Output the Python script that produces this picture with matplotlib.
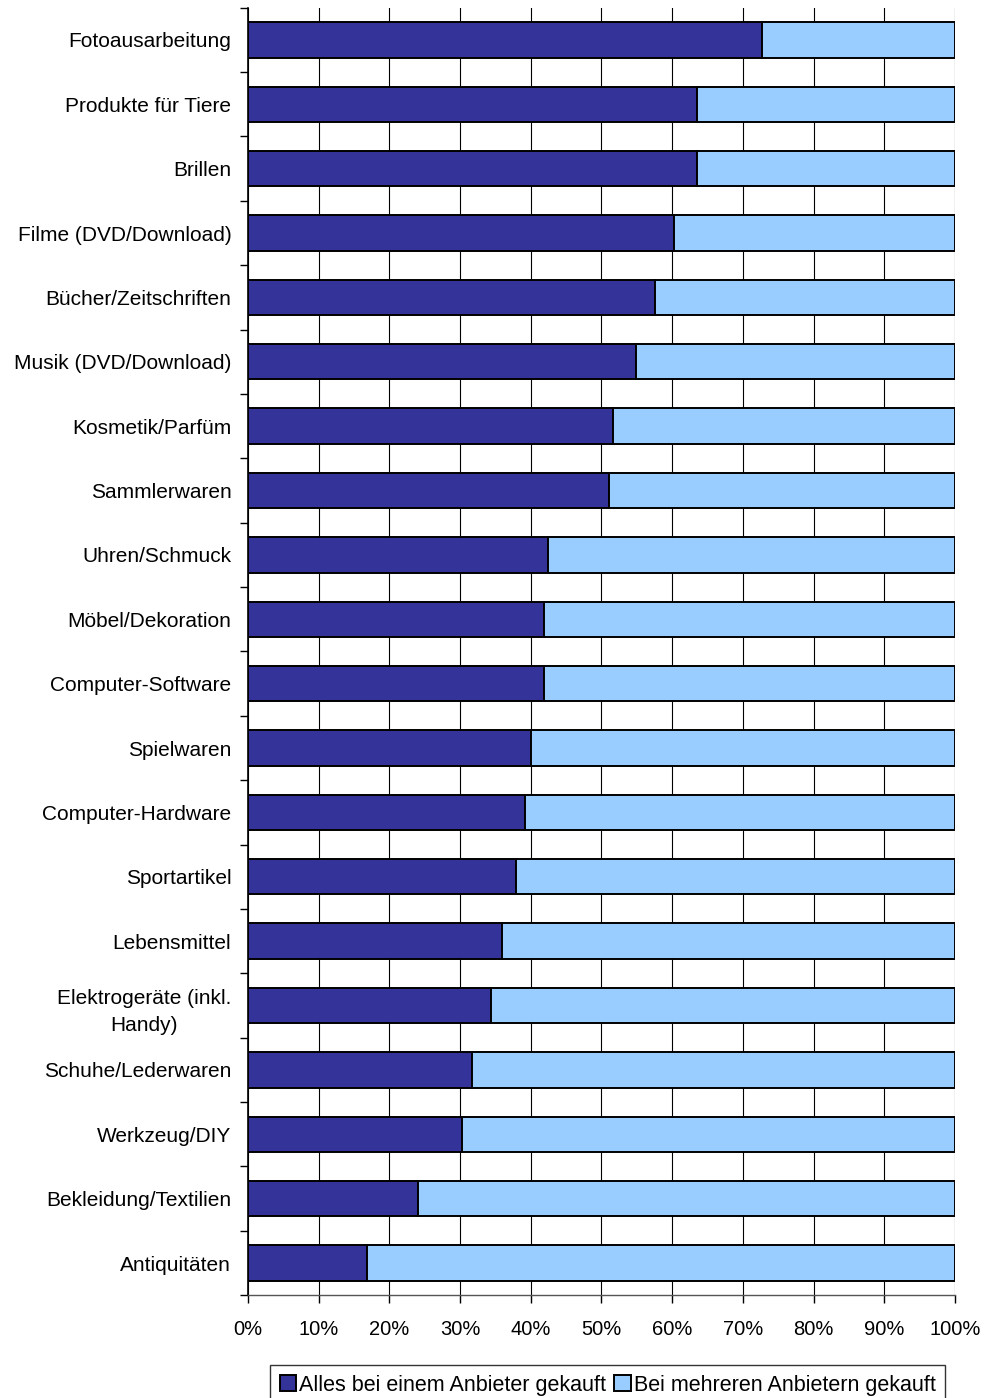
"""Stacked horizontal bars: buying from one vs. several online shops."""

import matplotlib.pyplot as plt
import numpy as np

plt.rcParams["font.family"] = ["Liberation Sans", "DejaVu Sans"]

categories = [
    "Fotoausarbeitung", "Produkte für Tiere", "Brillen", "Filme (DVD/Download)",
    "Bücher/Zeitschriften", "Musik (DVD/Download)", "Kosmetik/Parfüm",
    "Sammlerwaren", "Uhren/Schmuck", "Möbel/Dekoration", "Computer-Software",
    "Spielwaren", "Computer-Hardware", "Sportartikel", "Lebensmittel",
    "Elektrogeräte (inkl.\nHandy)", "Schuhe/Lederwaren", "Werkzeug/DIY",
    "Bekleidung/Textilien", "Antiquitäten",
]
one_shop = [72.7, 63.5, 63.5, 60.3, 57.6, 54.9, 51.6, 51.1, 42.4, 41.9,
            41.9, 40.0, 39.2, 37.9, 35.9, 34.4, 31.7, 30.3, 24.0, 16.8]
several_shops = [100 - v for v in one_shop]
tick_labels = [f"{p}%" for p in range(0, 101, 10)]

dark = "#333399"
light = "#99CCFF"

fig = plt.figure(figsize=(9.84, 13.98), dpi=100)
ax = fig.add_axes([0.252, 0.0735, 0.7185, 0.921])

y = np.arange(len(categories))
ax.barh(y, one_shop, height=0.55, color=dark, edgecolor="black",
        linewidth=1.4, label="Alles bei einem Anbieter gekauft", zorder=3)
ax.barh(y, several_shops, left=one_shop, height=0.55, color=light,
        edgecolor="black", linewidth=1.4,
        label="Bei mehreren Anbietern gekauft", zorder=3)

ax.set_xlim(0, 100)
ax.set_ylim(len(categories) - 0.5, -0.5)
ax.set_xticks(range(0, 101, 10))
ax.set_xticklabels(tick_labels, fontsize=14.5)
ax.set_yticks(y)
ax.set_yticklabels(categories, fontsize=15, linespacing=1.55,
                   multialignment="center")
ax.set_yticks(np.arange(len(categories) + 1) - 0.5, minor=True)
ax.tick_params(axis="y", which="major", length=0, pad=12)
ax.tick_params(axis="y", which="minor", length=6, width=1, direction="out")
ax.tick_params(axis="x", length=6, width=1, direction="out", pad=12)

ax.grid(axis="x", color="black", linewidth=0.8, zorder=0)
ax.set_axisbelow(True)
for side in ("top", "right"):
    ax.spines[side].set_visible(False)
ax.spines["left"].set_linewidth(1.2)
ax.spines["bottom"].set_linewidth(1.0)
ax.spines["bottom"].set_color("#555555")

leg = fig.legend(loc="upper center", bbox_to_anchor=(0.6175, 0.0235), ncol=2,
                 fontsize=15.5, frameon=True, fancybox=False, edgecolor="black",
                 handlelength=0.75, handleheight=0.75, handletextpad=0.15,
                 columnspacing=0.4, borderpad=0.45, borderaxespad=0)
leg.get_frame().set_linewidth(1.0)

fig.savefig("out.png", dpi=100)
